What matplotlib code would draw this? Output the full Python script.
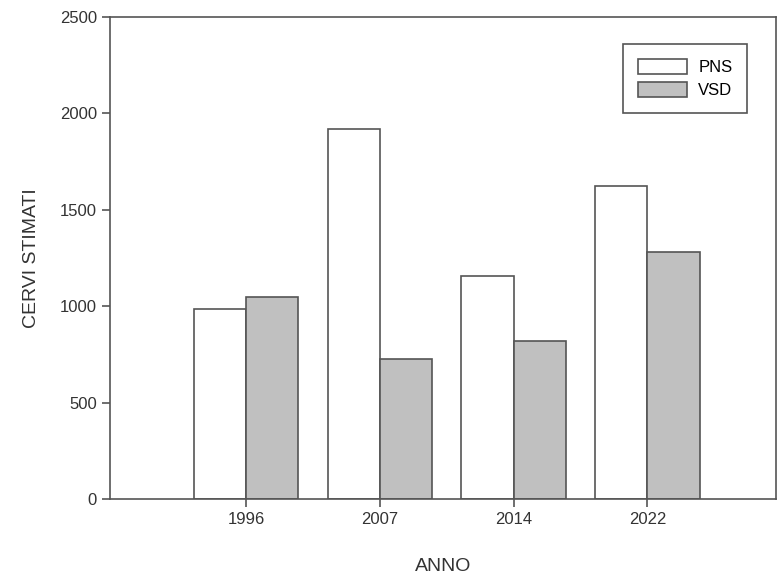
import matplotlib
matplotlib.use("Agg")
import matplotlib.pyplot as plt
import numpy as np

years = ["1996", "2007", "2014", "2022"]
pns = [985, 1920, 1158, 1622]
vsd = [1048, 728, 820, 1282]

plt.rcParams["font.family"] = ["Liberation Sans", "DejaVu Sans"]

edge = "#555555"


def main():
    fig = plt.figure(figsize=(7.78, 5.79), dpi=100)
    ax = fig.add_axes([0.1414, 0.138, 0.856, 0.833])

    x = np.arange(len(years))
    width = 0.39
    ax.bar(x - width / 2, pns, width, color="white", edgecolor=edge,
           linewidth=1.2, label="PNS")
    ax.bar(x + width / 2, vsd, width, color="#c0c0c0", edgecolor=edge,
           linewidth=1.2, label="VSD")

    ax.set_xlim(-1.015, 3.96)
    ax.set_ylim(0, 2500)
    ax.set_xticks(x)
    ax.set_xticklabels(years)
    ax.set_yticks(np.arange(0, 2501, 500))

    for spine in ax.spines.values():
        spine.set_color(edge)
        spine.set_linewidth(1.2)
    ax.tick_params(direction="out", length=6, width=1.2, color=edge,
                   labelsize=12, labelcolor="#333333")

    ax.set_xlabel("ANNO", fontsize=14, color="#333333", labelpad=22)
    ax.set_ylabel("CERVI STIMATI", fontsize=14, color="#333333", labelpad=14)

    leg = ax.legend(loc="upper right", bbox_to_anchor=(0.957, 0.943),
                    borderaxespad=0, fontsize=12, fancybox=False,
                    framealpha=1, handlelength=2.9, handleheight=1.0,
                    borderpad=0.9, labelspacing=0.4, handletextpad=0.7)
    leg.get_frame().set_edgecolor(edge)
    leg.get_frame().set_linewidth(1.2)

    fig.savefig("out.png", dpi=100)


if __name__ == "__main__":
    main()
